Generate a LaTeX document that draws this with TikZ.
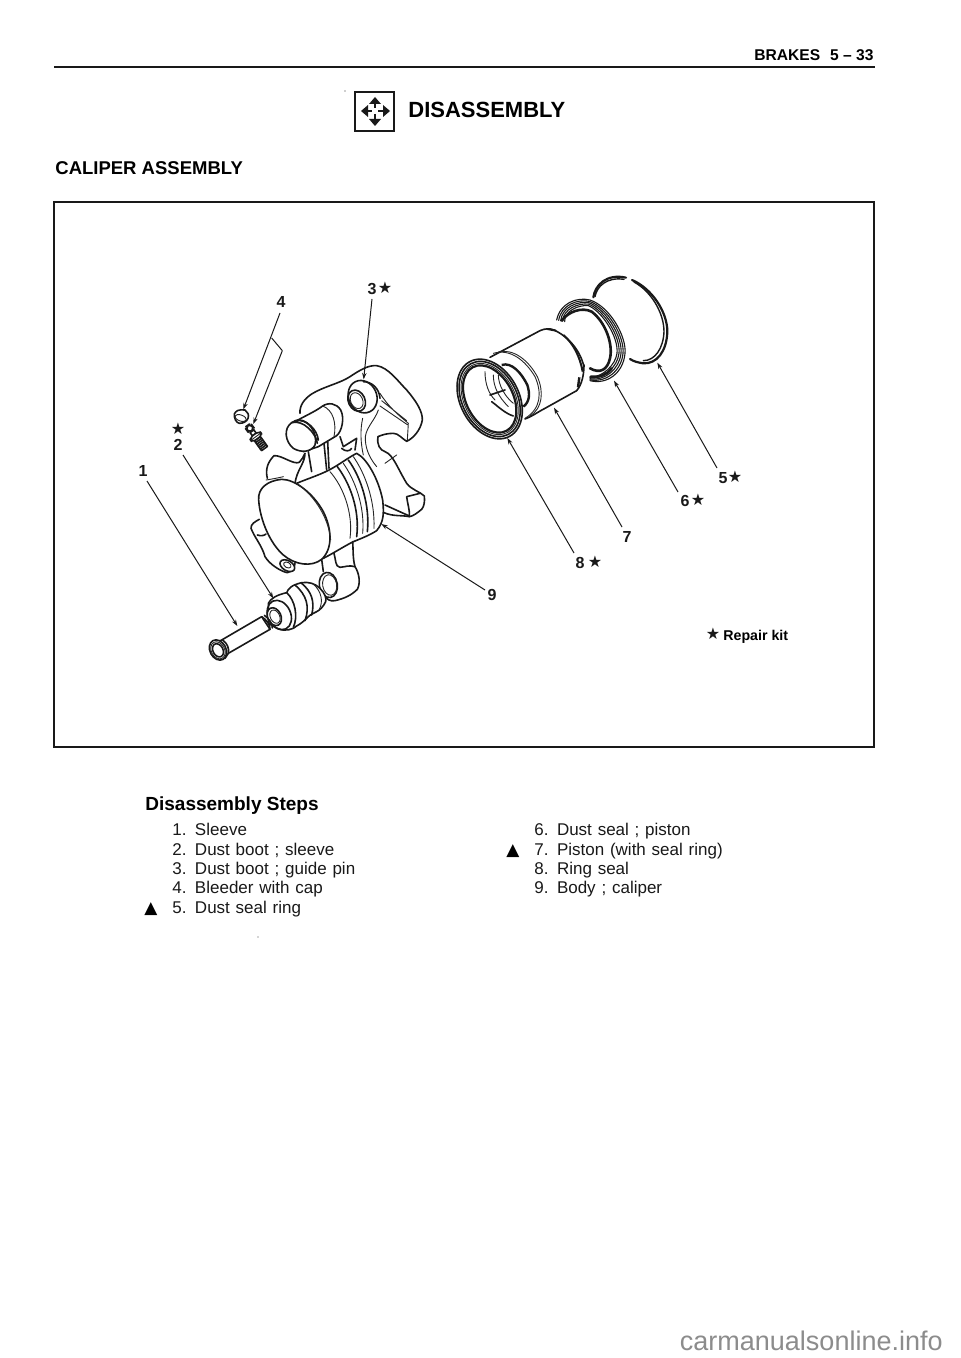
\documentclass[tikz,border=0pt]{standalone}
\usepackage{fontspec}
\setmainfont{Liberation Sans}
\usetikzlibrary{arrows.meta}
\tikzset{
  ink/.style={line width=0.8pt,line join=round,line cap=round,black!90},
  thin ink/.style={line width=0.45pt,line join=round,line cap=round,black!85},
  leader/.style={line width=0.5pt,black!90,-{Stealth[length=3.2pt,width=2.2pt]}},
  leader plain/.style={line width=0.5pt,black!90},
  part/.style={font=\bfseries\fontsize{8}{9}\selectfont,inner sep=0pt,black!90},
  starmark/.style={font=\fontspec{DejaVu Sans}\fontsize{8}{9}\selectfont,inner sep=0pt,black!90},
  step text/.style={font=\fontsize{8.5}{10}\selectfont,anchor=base west,inner sep=0pt,black!90},
  tri/.style={font=\fontspec{DejaVu Sans}\fontsize{8.5}{9}\selectfont,anchor=base west,inner sep=0pt},
}
\newcommand{\stepitem}[2]{\spaceskip=2.9pt\relax\makebox[11.3pt][l]{#1}#2}
\begin{document}
\begin{tikzpicture}[x=0.5pt,y=-0.5pt]
\useasboundingbox[fill=white] (0,0) rectangle (960,1358);
% header
\draw[line width=0.9pt,black!90] (54,67) -- (875,67);
\node[anchor=base east,inner sep=0pt,font=\bfseries\fontsize{7.8}{9}\selectfont] (hdr) at (874,61) {BRAKES\hspace{5pt}5 – 33};
\node[anchor=base west,inner sep=0pt,font=\bfseries\fontsize{11}{12}\selectfont] (title) at (408,118) {DISASSEMBLY};
\node[anchor=base west,inner sep=0pt,font=\bfseries\fontsize{9.25}{11}\selectfont] (sub) at (55,175) {CALIPER ASSEMBLY};
% icon
\draw[line width=1.1pt,black!90] (355,92) rectangle (394,131);
\begin{scope}[black!90,line width=1.1pt]
 \fill (375,97) -- (381,104) -- (369,104) -- cycle;
 \fill (375,126) -- (381,119) -- (369,119) -- cycle;
 \fill (361,111) -- (368,105) -- (368,117) -- cycle;
 \fill (390,111) -- (383,105) -- (383,117) -- cycle;
 \draw (375,103) -- (375,108) (375,114) -- (375,120) (367,111) -- (372,111) (378,111) -- (384,111);
\end{scope}
\fill[black!80] (345,91) circle (0.6);
\fill[black!70] (258,937) circle (0.6);
% frame
\draw[line width=0.7pt,black!90] (54,202) rectangle (874,747);

% ---------- caliper (zoom coordinates) ----------
\begin{scope}[shift={(180,270)},scale=1/3]
 % upper bridge
 \draw[ink] (360,430) .. controls (358,405) and (375,385) .. (395,372) .. controls (430,350) and (480,340) .. (510,320) .. controls (540,300) and (565,285) .. (590,287) .. controls (625,292) and (655,335) .. (680,360) .. controls (710,395) and (728,425) .. (727,450) .. controls (722,480) and (700,505) .. (680,514) .. controls (665,505) and (655,490) .. (640,490) .. controls (620,490) and (605,495) .. (594,500);
 \draw[ink] (594,500) .. controls (590,525) and (600,540) .. (615,545) .. controls (640,555) and (650,590) .. (680,640) .. controls (695,660) and (720,665) .. (733,678) .. controls (735,695) and (732,710) .. (725,718) .. controls (710,730) and (700,738) .. (688,740) .. controls (665,735) and (640,740) .. (612,728);
 \draw[ink] (615,705) -- (688,738) (688,740) .. controls (690,720) and (682,700) .. (680,680) (680,680) -- (720,670);
 \draw[thin ink] (615,580) -- (650,555) (600,370) .. controls (625,410) and (655,435) .. (685,460) (605,392) -- (680,452) (600,408) -- (682,464) (685,460) -- (682,510);
 \draw[thin ink] (548,445) .. controls (540,480) and (542,520) .. (550,555) (595,420) .. controls (585,450) and (560,470) .. (556,500) .. controls (555,530) and (565,560) .. (590,590);
 % boss
 \draw[ink,fill=white,rotate around={25:(548,380)}] (548,380) ellipse (42 and 50);
 \draw[ink,rotate around={25:(530,392)}] (530,392) ellipse (25 and 33);
 \draw[thin ink,rotate around={25:(530,392)}] (530,392) ellipse (18 and 25);
 \draw[ink] (550,335) .. controls (575,335) and (598,355) .. (600,385);
 % guide cylinder
 \draw[ink,fill=white] (340,458) .. controls (370,440) and (405,425) .. (425,410) .. controls (445,395) and (470,400) .. (482,420) .. controls (495,445) and (485,485) .. (470,497) -- (415,530) -- (370,545) -- (350,500) -- cycle;
 \draw[ink,fill=white] (358,450) .. controls (385,450) and (415,490) .. (405,525) .. controls (395,545) and (365,550) .. (340,535) .. controls (315,515) and (310,475) .. (335,458) .. controls (342,453) and (350,450) .. (358,450) -- cycle;
 \draw[ink] (335,458) .. controls (370,448) and (408,490) .. (412,520) (345,452) .. controls (380,445) and (412,480) .. (415,510);
 \draw[thin ink] (428,408) .. controls (460,420) and (470,460) .. (462,500);
 % web under guide
 \draw[ink] (385,545) -- (395,605) (443,515) -- (447,595) (432,520) -- (440,600);
 \draw[ink] (480,500) -- (490,530) -- (530,505) -- (525,540);
 \draw[ink] (485,535) .. controls (495,545) and (510,545) .. (515,535);
 % back flange
 \draw[ink] (262,625) .. controls (255,595) and (265,575) .. (282,557) .. controls (305,555) and (340,585) .. (358,577) .. controls (365,570) and (370,560) .. (375,550) .. controls (375,580) and (350,600) .. (345,640);
 % main cylinder body
 \draw[ink,fill=white] (350,640) .. controls (385,625) and (430,612) .. (465,590) .. controls (490,575) and (510,560) .. (530,550) .. controls (560,565) and (595,625) .. (608,690) .. controls (612,730) and (612,755) .. (590,782) .. controls (570,795) and (545,805) .. (520,815) .. controls (490,830) and (460,850) .. (430,865) -- (400,700) -- cycle;
 % ribs
 \draw[thin ink] (450,605) .. controls (490,650) and (520,730) .. (510,805);
 \draw[ink] (472,590) .. controls (510,640) and (540,720) .. (530,800);
 \draw[thin ink] (490,580) .. controls (525,630) and (555,710) .. (548,790);
 \draw[ink] (505,570) .. controls (545,625) and (570,710) .. (562,785);
 \draw[thin ink] (520,560) .. controls (555,610) and (585,690) .. (582,775);
 % end cap
 \draw[ink,fill=white] (236,690) .. controls (233,655) and (262,632) .. (305,628) .. controls (345,628) and (400,670) .. (430,725) .. controls (455,775) and (460,835) .. (425,868) .. controls (395,892) and (345,885) .. (310,855) .. controls (270,820) and (240,750) .. (236,690) -- cycle;
 \draw[thin ink] (350,640) .. controls (395,670) and (445,735) .. (452,810);
 \draw[thin ink] (258,630) .. controls (270,628) and (290,625) .. (310,620);
 % lower left lug
 \draw[ink] (238,748) .. controls (225,755) and (212,762) .. (213,775) .. controls (225,805) and (245,825) .. (255,860) .. controls (270,885) and (305,905) .. (322,908) .. controls (338,905) and (345,890) .. (345,878);
 \draw[ink] (232,795) .. controls (245,800) and (255,795) .. (258,792);
 \draw[ink,fill=white,rotate around={-30:(322,887)}] (322,887) ellipse (24 and 15);
 \draw[thin ink,rotate around={-30:(322,885)}] (322,885) ellipse (12 and 8);
 % lower lug
 \draw[ink] (425,868) -- (430,905);
 \draw[ink] (462,850) .. controls (468,870) and (465,890) .. (480,892) .. controls (500,890) and (505,885) .. (525,890) .. controls (538,910) and (542,940) .. (532,958) .. controls (515,975) and (495,985) .. (465,992) .. controls (450,995) and (440,988) .. (432,975);
 \draw[ink] (518,815) .. controls (520,840) and (518,865) .. (525,890);
 \draw[ink,rotate around={10:(445,945)}] (445,945) ellipse (27 and 38);
 \draw[thin ink,rotate around={10:(449,945)}] (449,945) ellipse (21 and 31);
 % dust boot
 \draw[ink,fill=white] (265,1000) .. controls (272,985) and (290,975) .. (320,968) .. controls (325,955) and (335,945) .. (365,938) .. controls (385,935) and (405,940) .. (420,955) .. controls (435,970) and (440,985) .. (437,995) .. controls (430,1010) and (420,1020) .. (410,1025) .. controls (400,1030) and (390,1035) .. (385,1040) .. controls (375,1050) and (365,1060) .. (350,1068) .. controls (340,1078) and (315,1085) .. (295,1077) -- (265,1060) -- cycle;
 \draw[ink] (320,968) .. controls (345,990) and (355,1040) .. (340,1072);
 \draw[ink] (345,945) .. controls (380,975) and (390,1010) .. (375,1052);
 \draw[ink] (365,940) .. controls (395,965) and (405,995) .. (395,1035);
 \draw[thin ink] (400,942) .. controls (425,965) and (430,995) .. (418,1018);
 \draw[ink,rotate around={25:(298,1035)}] (298,1035) ellipse (34 and 46);
 % sleeve
 \draw[ink,fill=white] (103,1120) -- (125,1110) -- (245,1040) -- (270,1078) -- (145,1150) -- (135,1165) -- cycle;
 \draw[ink,fill=white,rotate around={25:(283,1040)}] (283,1040) ellipse (20 and 28);
 \draw[thin ink,rotate around={25:(285,1040)}] (285,1040) ellipse (14 and 21);
 \draw[ink] (245,1040) .. controls (258,1048) and (272,1065) .. (270,1078) (253,1036) .. controls (266,1045) and (278,1060) .. (277,1074);
 \draw[ink,fill=white,rotate around={28:(114,1140)}] (114,1140) ellipse (24 and 32);
 \draw[ink,rotate around={28:(114,1141)}] (114,1141) ellipse (15 and 21);
 \draw[thin ink,rotate around={28:(114,1141)}] (114,1141) ellipse (20 and 27);
 \draw[ink] (128,1110) .. controls (142,1120) and (148,1135) .. (145,1150);
 % bleeder cap
 \draw[ink,fill=white] (163,432) .. controls (168,422) and (175,418) .. (195,420) .. controls (203,425) and (208,435) .. (204,445) .. controls (200,455) and (190,460) .. (178,460) .. controls (168,458) and (162,445) .. (163,432) -- cycle;
 \draw[thin ink,rotate around={-20:(182,444)}] (182,444) ellipse (18 and 9);
 % bleeder
 \begin{scope}[shift={(203,466)},rotate=-54]
  \draw[ink,fill=white,rounded corners=3pt] (0,-11) rectangle (22,11);
  \draw[ink,fill=white] (22,-7) rectangle (34,7);
  \draw[ink,fill=white,rounded corners=2pt] (34,-19) rectangle (50,19);
  \draw[thin ink] (42,-19) -- (42,19);
  \draw[ink,fill=white] (50,-11) rectangle (86,11);
  \foreach \t in {56,62,68,74,80}{\draw[ink] (\t,-11) -- (\t,11);}
 \end{scope}
 % anchor points of the leaders
 \coordinate (a1) at (172,1068);
 \coordinate (a2) at (280,985);
 \coordinate (a3) at (551,328);
 \coordinate (a4a) at (190,418);
 \coordinate (a4b) at (220,462);
 \coordinate (a9) at (604,762);
 \coordinate (b4) at (275,204);
 \coordinate (c4) at (307,242);
\end{scope}

% ---------- piston group (zoom coordinates) ----------
\begin{scope}[shift={(430,260)},scale=1/3]
 % ring 5
 \draw[line width=1.1pt,line cap=round,black!90] (490,112) .. controls (495,75) and (530,40) .. (588,53);
 \draw[line width=0.7pt,line cap=round,black!90] (495,110) .. controls (500,80) and (530,50) .. (582,58);
 \draw[line width=1.1pt,line cap=round,black!90] (606,60) .. controls (665,85) and (712,155) .. (712,215) .. controls (710,275) and (680,312) .. (640,310) .. controls (625,308) and (610,304) .. (600,297);
 \draw[line width=0.7pt,line cap=round,black!90] (612,66) .. controls (665,95) and (702,160) .. (702,215) .. controls (700,265) and (675,302) .. (640,302);
 % ring 6
 \foreach \d in {0,6,12,18,24}{
   \draw[line width=0.55pt,line cap=round,black!90] (380+\d,180+\d*0.2) .. controls (390+\d*0.5,130+\d) and (440+\d*0.2,110+\d) .. (480-\d*0.2,120+\d*0.7) .. controls (540-\d,140+\d*0.6) and (590-\d,230) .. (585-\d,280) .. controls (580-\d,340-\d) and (530-\d*0.5,375-\d) .. (480,362-\d*0.4);
 }
 \draw[line width=1.3pt,line cap=round,black!90] (395,182) .. controls (415,155) and (455,140) .. (485,155) .. controls (525,185) and (550,250) .. (540,295) .. controls (532,330) and (510,342) .. (480,325);
 \draw[line width=1.3pt,line cap=round,black!90] (482,350) .. controls (510,352) and (530,345) .. (545,325);
 % piston
 \draw[ink] (180,292) -- (330,212) .. controls (345,205) and (360,205) .. (372,210) .. controls (415,230) and (450,270) .. (462,320);
 \draw[line width=1pt,black!90] (352,207) -- (378,212) (400,225) .. controls (430,250) and (450,290) .. (458,335);
 \draw[ink] (462,315) .. controls (462,345) and (455,375) .. (440,392);
 \draw[line width=1.2pt,black!90] (448,352) -- (444,382);
 \draw[ink] (285,477) .. controls (305,470) and (320,458) .. (345,445) -- (440,392);
 \draw[thin ink] (190,280) .. controls (240,265) and (285,300) .. (315,350) .. controls (335,395) and (335,445) .. (285,475);
 \draw[thin ink] (205,276) .. controls (250,265) and (295,300) .. (322,350) .. controls (342,395) and (338,445) .. (300,468);
 \draw[line width=1.2pt,black!90] (215,315) .. controls (245,305) and (275,340) .. (292,375) .. controls (300,400) and (300,425) .. (280,440);
 % ring 8
 \draw[ink,fill=white,rotate around={28:(179,417)}] (179,417) ellipse (88 and 127);
 \draw[ink,rotate around={28:(179,417)}] (179,417) ellipse (82 and 120);
 \draw[thin ink,rotate around={28:(179,417)}] (179,417) ellipse (76 and 114);
 \draw[line width=1.1pt,black!90,rotate around={28:(179,417)}] (179,417) ellipse (70 and 108);
 % inside of the piston
 \draw[thin ink] (165,335) .. controls (165,370) and (175,400) .. (195,420) (190,345) .. controls (190,380) and (205,410) .. (235,440) (205,345) .. controls (205,375) and (225,410) .. (250,430);
 \draw[ink] (180,405) -- (225,390) (185,425) .. controls (205,440) and (225,460) .. (250,468);
 \coordinate (a5) at (682,308);
 \coordinate (a6) at (552,362);
 \coordinate (a7) at (372,443);
 \coordinate (a8) at (232,534);
\end{scope}

% ---------- part labels ----------
\node[part] (n1) at (143,471) {1};
\node[starmark] (s2) at (178,429) {★};
\node[part] (n2) at (178,445) {2};
\node[part] (n3) at (372,289) {3};
\node[starmark] (s3) at (385,288) {★};
\node[part] (n4) at (281,302) {4};
\node[part] (n5) at (723,478) {5};
\node[starmark] (s5) at (735,477) {★};
\node[part] (n6) at (685,501) {6};
\node[starmark] (s6) at (698,500) {★};
\node[part] (n7) at (627,537) {7};
\node[part] (n8) at (580,563) {8};
\node[starmark] (s8) at (595,562) {★};
\node[part] (n9) at (492,595) {9};
\node[starmark] (skit) at (713,634) {★};
\node[anchor=base west,inner sep=0pt,font=\bfseries\fontsize{7.1}{8}\selectfont] (kit) at (723,640) {Repair kit};

% ---------- leaders ----------
\coordinate (f1) at (147,481);
\coordinate (f2) at (183,455);
\coordinate (f3) at (372,299);
\coordinate (f4) at (280,313);
\coordinate (f5) at (717,468);
\coordinate (f6) at (678,492);
\coordinate (f7) at (622,527);
\coordinate (f8) at (574,553);
\coordinate (f9) at (485,590);
\draw[leader] (f1) -- (a1);
\draw[leader] (f2) -- (a2);
\draw[leader] (f3) -- (a3);
\draw[leader] (f4) -- (a4a);
\draw[leader plain] (b4) -- (c4);
\draw[leader] (c4) -- (a4b);
\draw[leader] (f9) -- (a9);
\draw[leader] (f5) -- (a5);
\draw[leader] (f6) -- (a6);
\draw[leader] (f7) -- (a7);
\draw[leader] (f8) -- (a8);

% ---------- steps ----------
\node[anchor=base west,inner sep=0pt,font=\bfseries\fontsize{9.5}{11}\selectfont] (dh) at (145,810) {Disassembly Steps};
\node[step text] (l1) at (172,835) {\stepitem{1.}{Sleeve}};
\node[step text] (l2) at (172,855) {\stepitem{2.}{Dust boot ; sleeve}};
\node[step text] (l3) at (172,874) {\stepitem{3.}{Dust boot ; guide pin}};
\node[step text] (l4) at (172,893) {\stepitem{4.}{Bleeder with cap}};
\node[step text] (l5) at (172,913) {\stepitem{5.}{Dust seal ring}};
\node[tri] (t5) at (144,913) {▲};
\node[step text] (r6) at (534,835) {\stepitem{6.}{Dust seal ; piston}};
\node[step text] (r7) at (534,855) {\stepitem{7.}{Piston (with seal ring)}};
\node[step text] (r8) at (534,874) {\stepitem{8.}{Ring seal}};
\node[step text] (r9) at (534,893) {\stepitem{9.}{Body ; caliper}};
\node[tri] (t7) at (506,855) {▲};
% watermark
\node[anchor=base east,inner sep=0pt,font=\fontsize{13.5}{15}\selectfont,black!45] (wm) at (943,1350) {carmanualsonline.info};
\end{tikzpicture}
\end{document}
